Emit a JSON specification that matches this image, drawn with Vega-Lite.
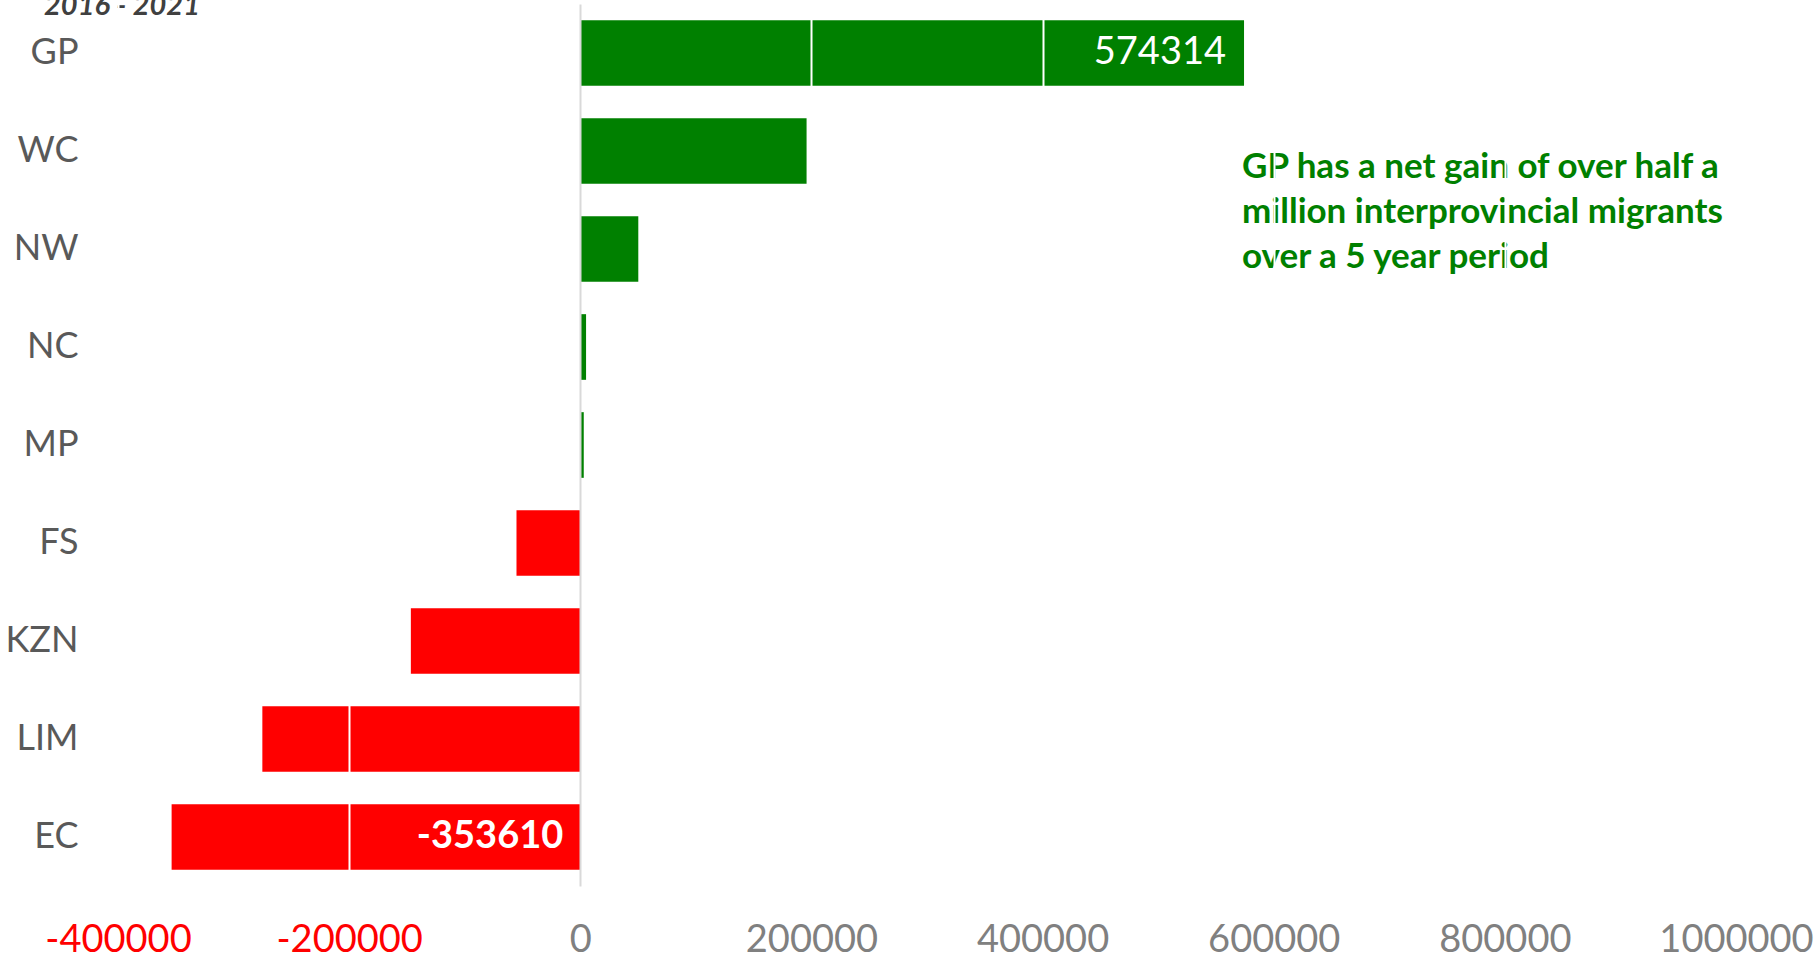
{
  "$schema": "https://vega.github.io/schema/vega-lite/v6.json",
  "width": 1618,
  "height": 882,
  "autosize": {"type": "none"},
  "padding": {"left": 118, "top": 4, "right": 84, "bottom": 74},
  "background": "white",
  "config": {"view": {"stroke": null}, "font": "Lato"},
  "title": {
    "text": "2016 - 2021",
    "anchor": "start",
    "frame": "group",
    "orient": "top",
    "baseline": "alphabetic",
    "offset": -40,
    "dx": -74,
    "fontSize": 29,
    "fontWeight": "bold",
    "fontStyle": "italic",
    "color": "#404040",
    "font": "Lato"
  },
  "data": {
    "values": [
      {"province": "GP", "value": 574314},
      {"province": "WC", "value": 195800},
      {"province": "NW", "value": 50200},
      {"province": "NC", "value": 5000},
      {"province": "MP", "value": 3000},
      {"province": "FS", "value": -55200},
      {"province": "KZN", "value": -146600},
      {"province": "LIM", "value": -275100},
      {"province": "EC", "value": -353610}
    ]
  },
  "encoding": {
    "y": {
      "field": "province",
      "type": "nominal",
      "sort": ["GP", "WC", "NW", "NC", "MP", "FS", "KZN", "LIM", "EC"],
      "scale": {"paddingInner": 0.33, "paddingOuter": 0.165},
      "axis": {
        "title": null,
        "domain": false,
        "ticks": false,
        "labelFontSize": 36,
        "labelColor": "#595959",
        "labelPadding": 40,
        "labelFont": "Lato"
      }
    },
    "x": {
      "field": "value",
      "type": "quantitative",
      "scale": {"domain": [-400000, 1000000], "nice": false, "zero": false},
      "axis": {
        "title": null,
        "values": [-400000, -200000, 0, 200000, 400000, 600000, 800000, 1000000],
        "labelExpr": "'' + datum.value",
        "labelOverlap": false,
        "labelFlush": false,
        "domain": false,
        "ticks": false,
        "grid": true,
        "gridWidth": 2,
        "gridColor": {"condition": {"test": "datum.value === 0", "value": "#d9d9d9"}, "value": "white"},
        "zindex": 1,
        "labelFontSize": 38,
        "labelFont": "Lato",
        "labelPadding": 35,
        "labelColor": {"condition": {"test": "datum.value < 0", "value": "#FF0000"}, "value": "#808080"}
      }
    }
  },
  "layer": [
    {
      "mark": {"type": "bar"},
      "encoding": {
        "color": {"condition": {"test": "datum.value > 0", "value": "#008000"}, "value": "#FF0000"}
      }
    },
    {
      "transform": [{"filter": "datum.province === 'GP'"}],
      "mark": {"type": "text", "align": "right", "baseline": "middle", "dx": -18, "fontSize": 38, "color": "white", "font": "Lato"},
      "encoding": {"text": {"field": "value", "type": "quantitative", "format": "d"}}
    },
    {
      "transform": [{"filter": "datum.province === 'EC'"}, {"calculate": "'' + datum.value", "as": "label"}],
      "mark": {"type": "text", "align": "right", "baseline": "middle", "dx": -17, "fontSize": 38, "fontWeight": "bold", "color": "white", "font": "Lato"},
      "encoding": {"x": {"datum": 0}, "text": {"field": "label"}}
    },
    {
      "data": {
        "values": [
          {"province": "WC", "value": 574314, "note": ["GP has a net gain of over half a", "million interprovincial migrants", "over a 5 year period"]}
        ]
      },
      "mark": {"type": "text", "align": "left", "baseline": "middle", "dy": 16, "dx": -2, "fontSize": 35, "fontWeight": "bold", "color": "#008000", "lineHeight": 45, "font": "Lato"},
      "encoding": {"text": {"field": "note"}}
    }
  ]
}
